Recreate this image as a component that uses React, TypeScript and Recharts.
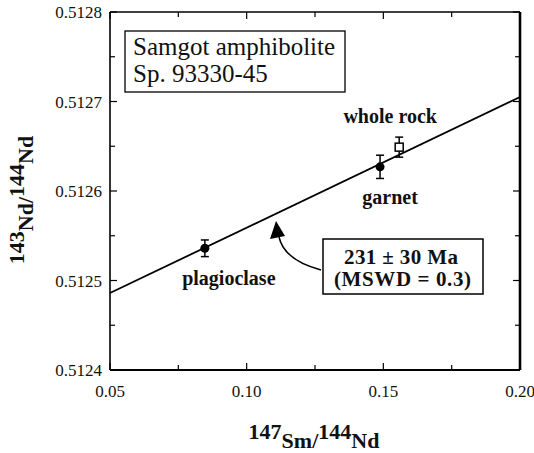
import React from 'react';
import { ScatterChart, Scatter, XAxis, YAxis, ReferenceLine, ErrorBar, Label } from 'recharts';

// ---- data ----
const mineralNames = ['plagioclase', 'garnet', 'whole rock'];
const smNdRatio = [0.0847, 0.1488, 0.1558];
const ndRatio = [0.512536, 0.512627, 0.512649];
const ndError = [0.0000093, 0.000013, 0.0000112];
const isochronX = [0.05, 0.2];
const isochronY = [0.512486, 0.512705];
const xTicks = [0.05, 0.075, 0.1, 0.125, 0.15, 0.175, 0.2];
const yTicks = [0.5124, 0.51245, 0.5125, 0.51255, 0.5126, 0.51265, 0.5127, 0.51275, 0.5128];
const sampleTitle = ['Samgot amphibolite', 'Sp. 93330-45'];
const ageText = ['231 \u00b1 30 Ma', '(MSWD = 0.3)'];

const points = mineralNames.map((name, i) => ({
  name,
  x: smNdRatio[i],
  y: ndRatio[i],
  err: ndError[i],
}));

// ---- styles ----
const FONT = 'Liberation Serif, Tinos, DejaVu Serif, Times New Roman, serif';
const INK = '#000';
const markerStyle: Record<string, { filled: boolean; dx: number; dy: number }> = {
  plagioclase: { filled: true, dx: 24, dy: 37 },
  garnet: { filled: true, dx: 10, dy: 37 },
  'whole rock': { filled: false, dx: -9, dy: -24 },
};

const isMajorX = (v: number) => Math.abs(v * 20 - Math.round(v * 20)) < 1e-6;
const isMajorY = (v: number) => Math.abs(v * 1e4 - Math.round(v * 1e4)) < 1e-6;

const txt = (size: number, bold = false): React.CSSProperties => ({
  fontFamily: FONT,
  fontSize: size,
  fontWeight: bold ? 'bold' : 'normal',
});

const BottomTick = (props: any) => {
  const { x, y, payload } = props;
  const v = payload.value;
  const major = isMajorX(v);
  return (
    <g>
      <line x1={x} y1={y} x2={x} y2={y - (major ? 7 : 5)} stroke={INK} strokeWidth={1.2} />
      {major && (
        <text x={x} y={y + 27} textAnchor="middle" style={txt(17)} fill="#111">
          {v.toFixed(2)}
        </text>
      )}
    </g>
  );
};

const TopTick = (props: any) => {
  const { x, y, payload } = props;
  const major = isMajorX(payload.value);
  return <line x1={x} y1={y} x2={x} y2={y + (major ? 7 : 5)} stroke={INK} strokeWidth={1.2} />;
};

const LeftTick = (props: any) => {
  const { x, y, payload } = props;
  const v = payload.value;
  const major = isMajorY(v);
  return (
    <g>
      <line x1={x} y1={y} x2={x + (major ? 7 : 5)} y2={y} stroke={INK} strokeWidth={1.2} />
      {major && (
        <text x={x - 8} y={y + 6} textAnchor="end" style={txt(17)} fill="#111">
          {v.toFixed(4)}
        </text>
      )}
    </g>
  );
};

const RightTick = (props: any) => {
  const { x, y, payload } = props;
  const major = isMajorY(payload.value);
  return <line x1={x} y1={y} x2={x - (major ? 7 : 5)} y2={y} stroke={INK} strokeWidth={1.2} />;
};

const XTitle = (props: any) => {
  const vb = props.viewBox;
  if (!vb) return null;
  const cx = vb.x + vb.width / 2 - 1;
  const base = vb.y + 78;
  return (
    <text x={cx} y={base} textAnchor="middle" style={txt(22, true)} fill="#111">
      <tspan dy={-9}>147</tspan>
      <tspan dy={9}>Sm/</tspan>
      <tspan dy={-9}>144</tspan>
      <tspan dy={9}>Nd</tspan>
    </text>
  );
};

const YTitle = (props: any) => {
  const vb = props.viewBox;
  if (!vb) return null;
  const ax = 33;
  const cy = vb.y + vb.height / 2 + 9;
  return (
    <text
      x={ax}
      y={cy}
      transform={`rotate(-90, ${ax}, ${cy})`}
      textAnchor="middle"
      style={txt(22, true)}
      fill="#111"
    >
      <tspan dy={-9}>143</tspan>
      <tspan dy={9}>Nd/</tspan>
      <tspan dy={-9}>144</tspan>
      <tspan dy={9}>Nd</tspan>
    </text>
  );
};

const PointShape = (props: any) => {
  const { cx, cy, payload } = props;
  const st = markerStyle[payload.name];
  return (
    <g>
      {st.filled ? (
        <circle cx={cx} cy={cy} r={4.5} fill={INK} />
      ) : (
        <rect x={cx - 4} y={cy - 4} width={8} height={8} fill="#fff" stroke={INK} strokeWidth={1.5} />
      )}
      <text x={cx + st.dx} y={cy + st.dy} textAnchor="middle" style={txt(20, true)} fill="#111">
        {payload.name}
      </text>
    </g>
  );
};

export default function App() {
  return (
    <div style={{ position: 'absolute', left: 0, top: 0, width: 534, height: 453, background: '#fff' }}>
      <ScatterChart width={534} height={453} margin={{ top: 11, right: 10, bottom: 0, left: 0 }}>
        <XAxis
          xAxisId="b"
          type="number"
          dataKey="x"
          domain={[0.05, 0.2]}
          ticks={xTicks}
          interval={0}
          allowDataOverflow
          tick={BottomTick}
          tickLine={false}
          tickSize={0}
          tickMargin={0}
          height={83}
          axisLine={{ stroke: INK, strokeWidth: 1.8 }}
        >
          <Label content={XTitle} />
        </XAxis>
        <XAxis
          xAxisId="t"
          orientation="top"
          type="number"
          dataKey="x"
          domain={[0.05, 0.2]}
          ticks={xTicks}
          interval={0}
          allowDataOverflow
          tick={TopTick}
          tickLine={false}
          tickSize={0}
          tickMargin={0}
          height={1}
          axisLine={{ stroke: INK, strokeWidth: 1.3 }}
        />
        <YAxis
          yAxisId="l"
          type="number"
          dataKey="y"
          domain={[0.5124, 0.5128]}
          ticks={yTicks}
          interval={0}
          allowDataOverflow
          tick={LeftTick}
          tickLine={false}
          tickSize={0}
          tickMargin={0}
          width={110}
          axisLine={{ stroke: INK, strokeWidth: 1.6 }}
        >
          <Label content={YTitle} />
        </YAxis>
        <YAxis
          yAxisId="r"
          orientation="right"
          type="number"
          dataKey="y"
          domain={[0.5124, 0.5128]}
          ticks={yTicks}
          interval={0}
          allowDataOverflow
          tick={RightTick}
          tickLine={false}
          tickSize={0}
          tickMargin={0}
          width={4}
          axisLine={{ stroke: INK, strokeWidth: 2.6 }}
        />
        <ReferenceLine
          xAxisId="b"
          yAxisId="l"
          segment={[
            { x: isochronX[0], y: isochronY[0] },
            { x: isochronX[1], y: isochronY[1] },
          ]}
          stroke={INK}
          strokeWidth={1.8}
        />
        <Scatter xAxisId="b" yAxisId="l" data={points} shape={PointShape} isAnimationActive={false}>
          <ErrorBar dataKey="err" direction="y" width={4} stroke={INK} strokeWidth={1.5} isAnimationActive={false} />
        </Scatter>
      </ScatterChart>
      <svg
        width={534}
        height={453}
        style={{ position: 'absolute', left: 0, top: 0, pointerEvents: 'none' }}
      >
        <rect x={125} y={31} width={220} height={61} fill="none" stroke={INK} strokeWidth={1.3} />
        <text x={133} y={55} style={txt(25)} fill="#111">
          {sampleTitle[0]}
        </text>
        <text x={133} y={82} style={txt(25)} fill="#111">
          {sampleTitle[1]}
        </text>
        <rect x={323} y={239} width={160} height={55} fill="#fff" stroke={INK} strokeWidth={1.5} />
        <text x={344} y={264} textLength={114} lengthAdjust="spacing" style={txt(21, true)} fill="#111">
          {ageText[0]}
        </text>
        <text x={334} y={286} textLength={137} lengthAdjust="spacing" style={txt(21, true)} fill="#111">
          {ageText[1]}
        </text>
        <path d="M 321 270 Q 284 260 279 237" fill="none" stroke={INK} strokeWidth={1.5} />
        <polygon points="276,221 270,239 285,236" fill={INK} />
      </svg>
    </div>
  );
}
